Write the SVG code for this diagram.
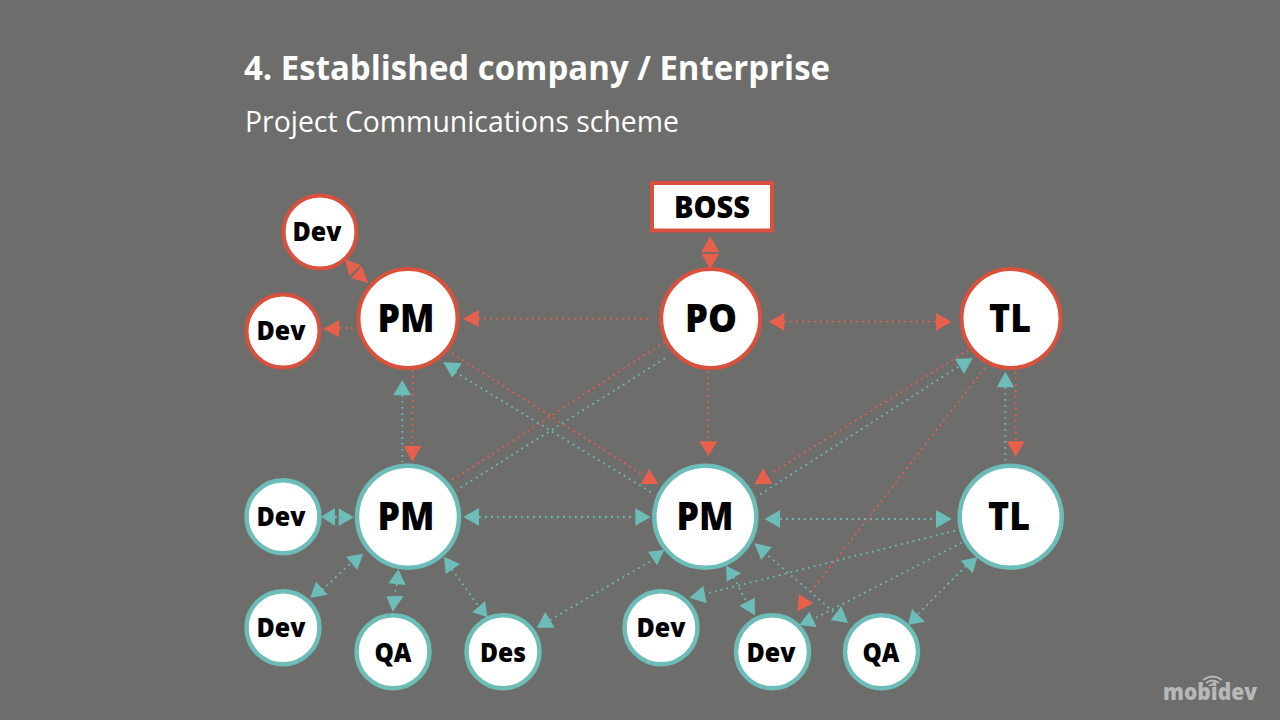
<svg xmlns="http://www.w3.org/2000/svg" width="1280" height="720" viewBox="0 0 1280 720">
<style>
text{font-family:"Open Sans","Noto Sans","Liberation Sans",sans-serif;text-anchor:middle}
.lb{font-weight:800;fill:#000}
.big{font-size:39px}
.sm{font-size:26.500px}
.r circle,.r rect{fill:#fff;stroke:#d9513c;stroke-width:4}
.t circle{fill:#fff;stroke:#6cbcb7;stroke-width:4.500}
#connectors line{fill:none;stroke-width:1.800;stroke-dasharray:1.800 4.200}
.lr line{stroke:#e8604c}
.lt line{stroke:#6cbcb7}
.lr polygon{fill:#e8604c}
.lt polygon{fill:#6cbcb7}
</style>
<rect width="1280" height="720" fill="#6d6d6b"/>
<text x="244" y="80" style="text-anchor:start;font-weight:700;font-size:34.500px" fill="#fff" textLength="586" lengthAdjust="spacingAndGlyphs">4. Established company / Enterprise</text>
<text x="245" y="132" style="text-anchor:start;font-size:29px" fill="#fff" textLength="434" lengthAdjust="spacingAndGlyphs">Project Communications scheme</text>
<g id="connectors">
<g class="lr">
<line x1="339" y1="328" x2="357" y2="328"/>
<line x1="478" y1="318.7" x2="651" y2="318.7"/>
<line x1="784" y1="321.7" x2="936" y2="321.7"/>
<line x1="708.3" y1="371" x2="708.3" y2="441"/>
<line x1="412.7" y1="370" x2="412.5" y2="446"/>
<line x1="447" y1="350" x2="643" y2="475"/>
<line x1="665" y1="341.7" x2="452.3" y2="480"/>
<line x1="968.3" y1="350" x2="770" y2="474.3"/>
<line x1="985" y1="367.7" x2="808.3" y2="595"/>
<line x1="1015.7" y1="372" x2="1015.7" y2="441"/>
<polygon points="345,259.3 360.7,265 349.3,276"/>
<polygon points="368.3,283.3 351,278 361.7,266"/>
<polygon points="323.3,329 339.3,320 339.3,337.3"/>
<polygon points="462.7,318.7 478.7,310 478.7,327"/>
<polygon points="412.3,461.7 403.7,446 421.3,446"/>
<polygon points="708.3,456 699.3,441.3 717.3,441.3"/>
<polygon points="649.3,469 640.7,484 658.3,484"/>
<polygon points="763.3,468.3 754.3,484 772.3,484"/>
<polygon points="813.3,603.3 799,594 797.3,611.3"/>
<polygon points="1015.7,456.7 1007,441.3 1024.7,441.3"/>
<polygon points="710.3,236 701.3,252 719.3,252"/>
<polygon points="710.3,269 701.3,253.7 719.3,253.7"/>
<polygon points="768.7,321.7 784.3,313 784.3,330.7"/>
<polygon points="951.7,321.7 936,313 936,330.7"/>
</g>
<g class="lt">
<line x1="402.3" y1="395" x2="402.3" y2="462"/>
<line x1="665" y1="358.3" x2="456.7" y2="490"/>
<line x1="455" y1="372" x2="654" y2="494"/>
<line x1="958.3" y1="366.7" x2="756" y2="497.3"/>
<line x1="479" y1="517" x2="635" y2="517"/>
<line x1="780" y1="519" x2="936" y2="519"/>
<line x1="1005.3" y1="387" x2="1005.3" y2="462"/>
<line x1="335" y1="517" x2="339" y2="517"/>
<line x1="322" y1="590" x2="352" y2="562"/>
<line x1="397" y1="584" x2="394" y2="596"/>
<line x1="452" y1="569" x2="479" y2="607"/>
<line x1="550" y1="620" x2="656" y2="558"/>
<line x1="955" y1="530.7" x2="705" y2="594"/>
<line x1="961.7" y1="542.7" x2="811.7" y2="620"/>
<line x1="764" y1="552" x2="836" y2="614"/>
<line x1="733.7" y1="577" x2="746.5" y2="602"/>
<line x1="966" y1="566" x2="917" y2="615"/>
<polygon points="452.3,377.7 443.3,362.3 461.7,363.3"/>
<polygon points="402.3,380 393.3,395.3 411,395.3"/>
<polygon points="321,516.7 335,508 335,525.7"/>
<polygon points="354,517.3 338.7,508.3 338.7,526"/>
<polygon points="463.3,517 479,508 479,526"/>
<polygon points="363.3,553.7 346,556.7 357.3,570"/>
<polygon points="310.3,597.7 316,581.7 327.7,594.7"/>
<polygon points="398.3,569.3 388.3,583.3 405.7,585"/>
<polygon points="392.7,611.7 386.3,596.3 403.7,596"/>
<polygon points="444,556.7 445.7,574 460,564"/>
<polygon points="487.7,617.3 472,612.3 485,601.3"/>
<polygon points="536.7,627.7 545.3,612 554.7,627.7"/>
<polygon points="650.7,517 635.3,508.3 635.3,525.7"/>
<polygon points="764.7,519 780,510 780,528"/>
<polygon points="664.3,550 648,551.7 657,565.3"/>
<polygon points="754.3,543.3 771.7,547 761.3,560"/>
<polygon points="726,565.7 741,573.3 726.7,581.7"/>
<polygon points="689.3,597.7 703.3,586 706.7,603.3"/>
<polygon points="739.3,605.7 754.7,597.7 755,615.3"/>
<polygon points="799.3,625 809.3,611.7 816.7,627.3"/>
<polygon points="848,623 830.7,620 841.3,606.3"/>
<polygon points="951.7,519 936,510 936,528"/>
<polygon points="964,374 955,358.7 972.7,358.3"/>
<polygon points="1005.3,371.7 996.7,387.3 1014.3,387.3"/>
<polygon points="977.3,557.3 960.7,560.7 972.7,573.3"/>
<polygon points="908,625 912,609 925,621.7"/>
</g>
</g>
<g id="boss" class="r"><rect x="652" y="183" width="120" height="47.500"/><text class="lb" x="712" y="218" font-size="30" textLength="76" lengthAdjust="spacingAndGlyphs">BOSS</text></g>
<g id="dev-r1" class="r"><circle cx="320" cy="232" r="36.500"/><text class="lb sm" x="317" y="241" textLength="49" lengthAdjust="spacingAndGlyphs">Dev</text></g>
<g id="dev-r2" class="r"><circle cx="283" cy="331" r="36.500"/><text class="lb sm" x="281" y="340" textLength="49" lengthAdjust="spacingAndGlyphs">Dev</text></g>
<g id="pm-r" class="r"><circle cx="408" cy="318.500" r="49.500"/><text class="lb big" x="406" y="332" textLength="57" lengthAdjust="spacingAndGlyphs">PM</text></g>
<g id="po" class="r"><circle cx="710.700" cy="318.500" r="49.500"/><text class="lb big" x="711" y="332" textLength="52" lengthAdjust="spacingAndGlyphs">PO</text></g>
<g id="tl-r" class="r"><circle cx="1011" cy="318.500" r="49.500"/><text class="lb big" x="1010" y="332" textLength="42" lengthAdjust="spacingAndGlyphs">TL</text></g>
<g id="pm-t1" class="t"><circle cx="408" cy="516.700" r="51"/><text class="lb big" x="406" y="530" textLength="57" lengthAdjust="spacingAndGlyphs">PM</text></g>
<g id="dev-t1" class="t"><circle cx="283" cy="516.700" r="36.500"/><text class="lb sm" x="281" y="526" textLength="49" lengthAdjust="spacingAndGlyphs">Dev</text></g>
<g id="dev-t2" class="t"><circle cx="283" cy="627.700" r="36.500"/><text class="lb sm" x="281" y="637" textLength="49" lengthAdjust="spacingAndGlyphs">Dev</text></g>
<g id="qa-t1" class="t"><circle cx="393" cy="651.700" r="36.500"/><text class="lb sm" x="393" y="662" textLength="37" lengthAdjust="spacingAndGlyphs">QA</text></g>
<g id="des" class="t"><circle cx="503" cy="651.700" r="36.500"/><text class="lb sm" x="503" y="662" textLength="46" lengthAdjust="spacingAndGlyphs">Des</text></g>
<g id="pm-t2" class="t"><circle cx="705.300" cy="516.700" r="51"/><text class="lb big" x="705" y="530" textLength="57" lengthAdjust="spacingAndGlyphs">PM</text></g>
<g id="dev-t3" class="t"><circle cx="661" cy="627.700" r="36.500"/><text class="lb sm" x="661" y="637" textLength="49" lengthAdjust="spacingAndGlyphs">Dev</text></g>
<g id="dev-t4" class="t"><circle cx="772.500" cy="651.700" r="36.500"/><text class="lb sm" x="771" y="662" textLength="49" lengthAdjust="spacingAndGlyphs">Dev</text></g>
<g id="qa-t2" class="t"><circle cx="881.500" cy="651.700" r="36.500"/><text class="lb sm" x="881" y="662" textLength="37" lengthAdjust="spacingAndGlyphs">QA</text></g>
<g id="tl-t" class="t"><circle cx="1010.700" cy="516.700" r="51"/><text class="lb big" x="1009" y="530" textLength="42" lengthAdjust="spacingAndGlyphs">TL</text></g>
<g id="logo" fill="none" stroke="#b8b8b8">
<path d="M1203 680Q1212.500 673 1222 680M1206 683Q1212.500 678 1219 683M1209 686Q1212.500 683 1216 686" stroke-width="1.800"/>
<text x="1163" y="700" style="text-anchor:start;font-weight:800;font-size:22px" fill="#b8b8b8" stroke="none" textLength="94" lengthAdjust="spacingAndGlyphs">mobidev</text>
</g>
</svg>
